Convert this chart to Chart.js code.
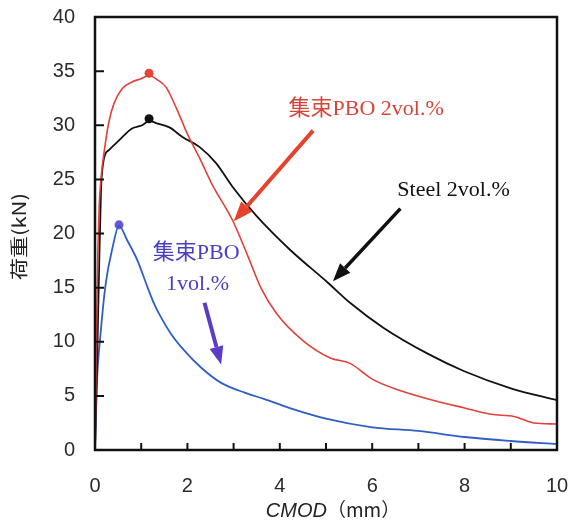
<!DOCTYPE html>
<html>
<head>
<meta charset="utf-8">
<script src="https://cdn.jsdelivr.net/npm/chart.js@4/dist/chart.umd.min.js"></script>
<style>
  html, body { margin: 0; padding: 0; background: #fff; }
  #wrap { width: 571px; height: 525px; }
</style>
</head>
<body>
<div id="wrap"><canvas id="cmodChart" width="571" height="525"></canvas></div>
<script>
// 集束PBO 2vol.%
var pbo2X = [0, 0.02, 0.04, 0.06, 0.09, 0.14, 0.2, 0.3, 0.41, 0.59, 0.8, 1.0, 1.17, 1.35, 1.54, 1.78, 2.0, 2.26, 2.54, 2.98, 3.3, 3.6, 3.93, 4.5, 5.09, 5.52, 6.02, 6.6, 7.4, 7.98, 8.57, 9.07, 9.5, 10];
var pbo2Y = [0, 6, 13, 18, 22.5, 25.5, 27.6, 30.3, 32.0, 33.4, 34.0, 34.3, 34.6, 34.2, 33.5, 31.4, 29.2, 27.0, 24.5, 21.2, 18.0, 14.9, 12.6, 10.1, 8.5, 8.0, 6.5, 5.5, 4.5, 3.9, 3.3, 3.1, 2.5, 2.4];
// Steel 2vol.%
var steelX = [0, 0.05, 0.09, 0.13, 0.18, 0.23, 0.3, 0.52, 0.8, 1.02, 1.18, 1.32, 1.61, 1.9, 2.26, 2.62, 2.98, 3.5, 4.22, 5.03, 5.52, 6.24, 7.2, 7.98, 9.0, 10];
var steelY = [0, 9, 17, 24, 26.6, 27.4, 27.7, 28.6, 29.7, 30.0, 30.4, 30.2, 29.8, 28.9, 28.0, 26.5, 24.3, 21.6, 18.5, 15.5, 13.6, 11.3, 8.9, 7.3, 5.7, 4.6];
// 集束PBO 1vol.%
var pbo1X = [0, 0.04, 0.12, 0.23, 0.38, 0.52, 0.7, 0.92, 1.14, 1.28, 1.43, 1.65, 1.93, 2.3, 2.73, 3.24, 3.67, 4.2, 5.0, 6.0, 7.0, 8.0, 9.0, 10];
var pbo1Y = [0, 6, 10.7, 15.3, 18.7, 20.7, 19.35, 17.5, 15.0, 13.5, 12.25, 10.7, 9.2, 7.6, 6.2, 5.3, 4.7, 3.9, 2.9, 2.1, 1.76, 1.2, 0.83, 0.55];

// peak markers
var peakX = [1.17, 1.17, 0.52];
var peakY = [34.8, 30.6, 20.8];

var xTickValues = [0, 2, 4, 6, 8, 10];
var xMinorTicks = [1, 2, 3, 4, 5, 6, 7, 8, 9];
var yTickValues = [0, 5, 10, 15, 20, 25, 30, 35, 40];

function pts(xs, ys) {
    return xs.map(function(x, i) { return { x: x, y: ys[i] }; });
}

function arrow(ctx, x1, y1, x2, y2, color, w, headLen, headW) {
    var ang = Math.atan2(y2 - y1, x2 - x1);
    var bx = x2 - headLen * Math.cos(ang);
    var by = y2 - headLen * Math.sin(ang);
    ctx.save();
    ctx.strokeStyle = color;
    ctx.fillStyle = color;
    ctx.lineWidth = w;
    ctx.beginPath();
    ctx.moveTo(x1, y1);
    ctx.lineTo(bx, by);
    ctx.stroke();
    ctx.beginPath();
    ctx.moveTo(x2, y2);
    ctx.lineTo(bx + headW / 2 * Math.sin(ang), by - headW / 2 * Math.cos(ang));
    ctx.lineTo(bx - headW / 2 * Math.sin(ang), by + headW / 2 * Math.cos(ang));
    ctx.closePath();
    ctx.fill();
    ctx.restore();
}

var serif = '"Liberation Serif", "Noto Sans CJK JP", serif';
var sans = '"Liberation Sans", Arial, "Noto Sans CJK JP", sans-serif';

// frame, inward ticks, axis titles and the annotations
var decorPlugin = {
    id: 'decor',
    afterDraw: function(chart) {
        var ctx = chart.ctx, a = chart.chartArea;
        var xs = chart.scales.x, ys = chart.scales.y;
        ctx.save();
        ctx.strokeStyle = '#111';
        ctx.lineWidth = 2.5;
        ctx.strokeRect(a.left, a.top, a.right - a.left, a.bottom - a.top);
        ctx.lineWidth = 2;
        ctx.beginPath();
        xMinorTicks.forEach(function(v) {
            var px = xs.getPixelForValue(v);
            ctx.moveTo(px, a.bottom);
            ctx.lineTo(px, a.bottom - 7);
        });
        yTickValues.forEach(function(v) {
            var py = ys.getPixelForValue(v);
            ctx.moveTo(a.left, py);
            ctx.lineTo(a.left + 9, py);
        });
        ctx.stroke();

        // x title
        ctx.fillStyle = '#222';
        ctx.textBaseline = 'middle';
        ctx.font = 'italic 20px ' + sans;
        var t1 = 'CMOD', t2 = '（mm）';
        var w1 = ctx.measureText(t1).width;
        ctx.font = '19px "Noto Sans CJK JP", sans-serif';
        var w2 = ctx.measureText(t2).width;
        var cx = (a.left + a.right) / 2 + 7 - (w1 + w2) / 2;
        ctx.font = 'italic 20px ' + sans;
        ctx.textAlign = 'left';
        ctx.fillText(t1, cx, a.bottom + 61);
        ctx.font = '19px "Noto Sans CJK JP", sans-serif';
        ctx.fillText(t2, cx + w1, a.bottom + 60);

        // y title
        ctx.save();
        ctx.translate(19, (a.top + a.bottom) / 2 + 3);
        ctx.rotate(-Math.PI / 2);
        ctx.scale(1.1, 0.9);
        ctx.textAlign = 'center';
        ctx.font = '20px "Noto Sans CJK JP", sans-serif';
        ctx.fillText('荷重(kN)', 0, 0);
        ctx.restore();

        // annotations
        function P(x, y) { return [xs.getPixelForValue(x), ys.getPixelForValue(y)]; }
        ctx.textAlign = 'center';
        ctx.font = '22px ' + serif;

        var p = P(5.87, 31.5);
        ctx.fillStyle = '#d9443a';
        ctx.fillText('集束PBO 2vol.%', p[0], p[1]);
        var r1 = P(4.72, 29.5), r2 = P(3.0, 21.1);
        arrow(ctx, r1[0], r1[1], r2[0], r2[1], '#e5432e', 4, 20, 15);

        p = P(7.76, 24.0);
        ctx.fillStyle = '#111';
        ctx.fillText('Steel 2vol.%', p[0], p[1]);
        var s1 = P(6.61, 22.3), s2 = P(5.15, 15.6);
        arrow(ctx, s1[0], s1[1], s2[0], s2[1], '#111', 3.5, 18, 14);

        ctx.fillStyle = '#4a3fc2';
        p = P(2.19, 18.2);
        ctx.fillText('集束PBO', p[0], p[1]);
        p = P(2.22, 15.3);
        ctx.fillText('1vol.%', p[0], p[1]);
        var b1 = P(2.37, 13.6), b2 = P(2.73, 7.9);
        arrow(ctx, b1[0], b1[1], b2[0], b2[1], '#5a3cc8', 4, 18, 14);
        ctx.restore();
    }
};

document.addEventListener("DOMContentLoaded", function() {
    var ctx = document.getElementById('cmodChart').getContext('2d');
    var chart = new Chart(ctx, {
        type: 'scatter',
        data: {
            datasets: [
                {
                    label: '集束PBO 2vol.%',
                    data: pts(pbo2X, pbo2Y),
                    showLine: true,
                    borderColor: '#e0413a',
                    borderWidth: 1.6,
                    pointRadius: 0,
                    cubicInterpolationMode: 'monotone'
                },
                {
                    label: 'Steel 2vol.%',
                    data: pts(steelX, steelY),
                    showLine: true,
                    borderColor: '#111111',
                    borderWidth: 1.8,
                    pointRadius: 0,
                    cubicInterpolationMode: 'monotone'
                },
                {
                    label: '集束PBO 1vol.%',
                    data: pts(pbo1X, pbo1Y),
                    showLine: true,
                    borderColor: '#2f5fc4',
                    borderWidth: 1.8,
                    pointRadius: 0,
                    cubicInterpolationMode: 'monotone'
                },
                {
                    label: 'peak',
                    data: pts(peakX, peakY),
                    showLine: false,
                    pointRadius: 4.5,
                    pointBorderWidth: 0,
                    pointBackgroundColor: ['#e8443a', '#111111', '#6a55d6']
                }
            ]
        },
        options: {
            responsive: false,
            animation: false,
            events: [],
            layout: { padding: { top: 17, right: 14, left: 0, bottom: 0 } },
            plugins: {
                legend: { display: false },
                tooltip: { enabled: false }
            },
            scales: {
                x: {
                    type: 'linear',
                    min: 0,
                    max: 10,
                    afterBuildTicks: function(s) {
                        s.ticks = xTickValues.map(function(v) { return { value: v }; });
                    },
                    afterFit: function(s) {
                        s.height = 75;
                        s.paddingLeft = 0;
                        s.paddingRight = 0;
                    },
                    grid: { display: false, drawTicks: false },
                    border: { display: false },
                    ticks: {
                        padding: 24,
                        maxRotation: 0,
                        color: '#2b2b2b',
                        font: { family: sans, size: 20 }
                    }
                },
                y: {
                    type: 'linear',
                    min: 0,
                    max: 40,
                    afterBuildTicks: function(s) {
                        s.ticks = yTickValues.map(function(v) { return { value: v }; });
                    },
                    afterFit: function(s) {
                        s.width = 95;
                        s.paddingTop = 0;
                        s.paddingBottom = 0;
                    },
                    grid: { display: false, drawTicks: false },
                    border: { display: false },
                    ticks: {
                        padding: 20,
                        color: '#2b2b2b',
                        font: { family: sans, size: 20 }
                    }
                }
            }
        },
        plugins: [decorPlugin]
    });
});
</script>
</body>
</html>
